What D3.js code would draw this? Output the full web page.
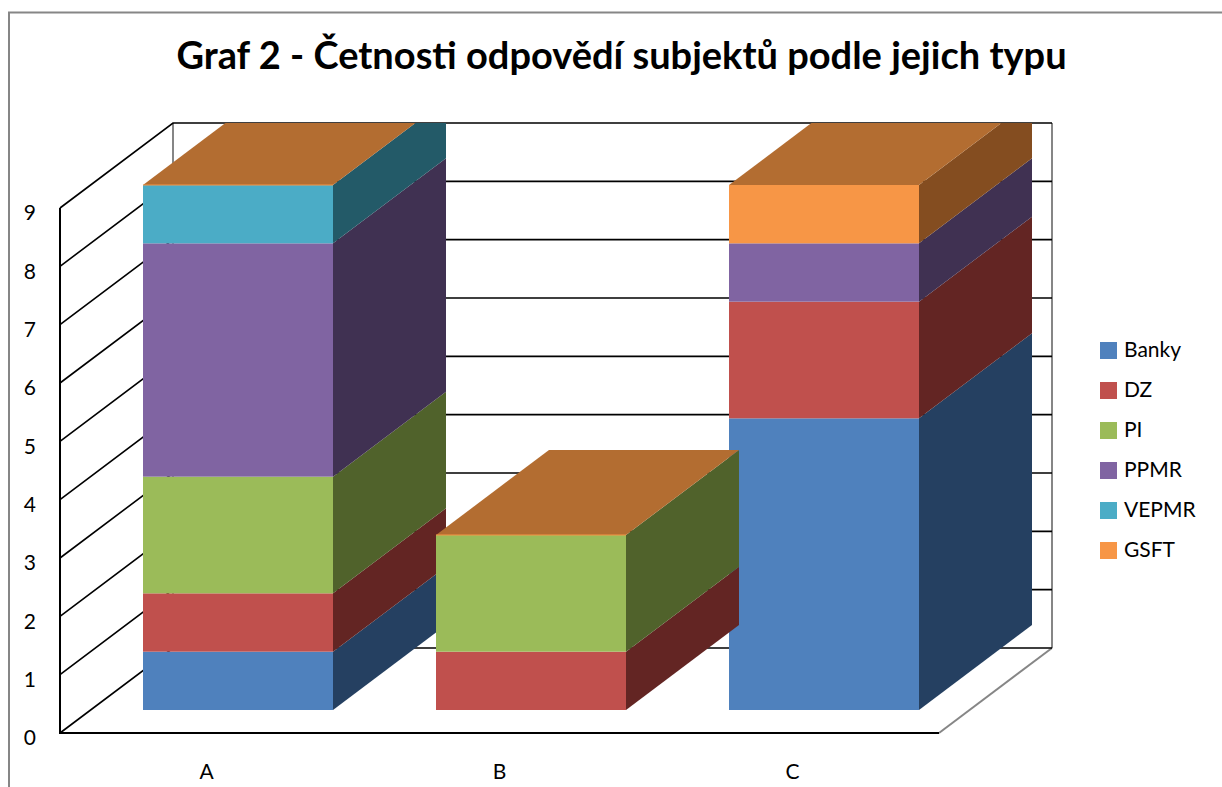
<!DOCTYPE html>
<html>
<head>
<meta charset="utf-8">
<script src="https://cdn.jsdelivr.net/npm/d3@7"></script>
<style>
  html, body { margin: 0; padding: 0; background: #fff; }
  svg { display: block; font-family: Lato, sans-serif; }
</style>
</head>
<body>
<div id="chart"></div>
<script>
const categories = ['A', 'B', 'C']
const seriesNames = ['Banky', 'DZ', 'PI', 'PPMR', 'VEPMR', 'GSFT']
const banky = [1, 0, 5]
const dz = [1, 1, 2]
const pi = [2, 2, 0]
const ppmr = [4, 0, 1]
const vepmr = [1, 0, 0]
const gsft = [0, 0, 1]
const yTicks = [0, 1, 2, 3, 4, 5, 6, 7, 8, 9]
const frontColors = ['#4f81bd', '#c0504d', '#9bbb59', '#8064a2', '#4bacc6', '#f79646']
const sideColors = ['#254061', '#632523', '#50622b', '#403152', '#235a68', '#844d20']
const topColor = '#b36d31'
const title = 'Graf 2 - Četnosti odpovědí subjektů podle jejich typu'

const width = 1222
const height = 787

// oblique projection of the 3D box
const depthX = 113
const depthY = 85
const wallLeft = 60
const wallRight = 939
const wallBottom = 733
const wallTop = 208
const barWidth = 190
const barOffset = 83
const barBaseline = 710

const rows = categories.map((c, i) => ({
  category: c,
  Banky: banky[i],
  DZ: dz[i],
  PI: pi[i],
  PPMR: ppmr[i],
  VEPMR: vepmr[i],
  GSFT: gsft[i],
}))
const stacked = d3.stack().keys(seriesNames)(rows)

const xScale = d3.scaleBand().domain(categories).range([wallLeft, wallRight])
const yScale = d3.scaleLinear().domain([0, 9]).range([wallBottom, wallTop])
const barScale = d3.scaleLinear().domain([0, 9]).range([barBaseline, barBaseline - (wallBottom - wallTop)])

const svg = d3.select('#chart').append('svg').attr('width', width).attr('height', height)

svg.append('defs').append('clipPath').attr('id', 'plot-clip')
  .append('rect')
  .attr('x', 0)
  .attr('y', wallTop - depthY)
  .attr('width', width)
  .attr('height', height)

// outer chart frame, cut by the picture edge on the right and bottom
svg.append('path')
  .attr('d', `M9,${height}V12.5H${width}`)
  .attr('fill', 'none')
  .attr('stroke', '#868686')
  .attr('stroke-width', 2)

svg.append('text')
  .attr('x', 621.5)
  .attr('y', 69)
  .attr('text-anchor', 'middle')
  .attr('font-size', 38)
  .attr('font-weight', 700)
  .attr('fill', '#000')
  .text(title)

// walls and floor
const grid = svg.append('g').attr('fill', 'none')
const gridLine = (d, color = '#000', w = 1.6) =>
  grid.append('path').attr('d', d).attr('stroke', color).attr('stroke-width', w)

gridLine(`M${wallLeft + depthX},${wallTop - depthY}V${wallBottom - depthY}`, '#868686', 2)
gridLine(`M${wallRight + depthX},${wallTop - depthY}V${wallBottom - depthY}`, '#868686', 2)
gridLine(`M${wallRight},${wallBottom}L${wallRight + depthX},${wallBottom - depthY}`, '#868686', 2)
yTicks.forEach(t => {
  const y = yScale(t)
  gridLine(`M${wallLeft},${y}L${wallLeft + depthX},${y - depthY}H${wallRight + depthX}`)
})
gridLine(`M${wallLeft},${wallTop}V${wallBottom}H${wallRight}`, '#000', 2)

// bar C is painted before B: the side of B lies over the front of C
const paintOrder = [0, 2, 1]
const bars = svg.append('g').attr('clip-path', 'url(#plot-clip)')

paintOrder.forEach(i => {
  const x0 = xScale(categories[i]) + barOffset
  const x1 = x0 + barWidth
  const g = bars.append('g').attr('class', `bar-${categories[i]}`)

  stacked.forEach((layer, s) => {
    const [v0, v1] = layer[i]
    if (v1 === v0) return
    const y0 = barScale(v0)
    const y1 = barScale(v1)
    g.append('polygon')
      .attr('points', [[x1, y0], [x1 + depthX, y0 - depthY], [x1 + depthX, y1 - depthY], [x1, y1]].join(' '))
      .attr('fill', sideColors[s])
    g.append('rect')
      .attr('x', x0)
      .attr('y', y1)
      .attr('width', barWidth)
      .attr('height', y0 - y1)
      .attr('fill', frontColors[s])
  })

  const total = d3.sum(stacked, layer => layer[i][1] - layer[i][0])
  const yTop = barScale(total)
  g.append('polygon')
    .attr('points', [[x0, yTop], [x1, yTop], [x1 + depthX, yTop - depthY], [x0 + depthX, yTop - depthY]].join(' '))
    .attr('fill', topColor)
  // empty GSFT segment still shows as a hairline along the front edge
  if (gsft[i] === 0) {
    g.append('line')
      .attr('x1', x0)
      .attr('x2', x1)
      .attr('y1', yTop)
      .attr('y2', yTop)
      .attr('stroke', frontColors[5])
      .attr('stroke-width', 1)
  }
})

// value labels
const yAxis = svg.append('g')
  .attr('transform', 'translate(36,5)')
  .call(d3.axisLeft(yScale).tickValues(yTicks).tickSize(0).tickPadding(0))
yAxis.select('.domain').remove()
yAxis.selectAll('text').attr('font-size', 21).attr('fill', '#000').style('font-family', 'Lato, sans-serif')

// category labels
const xAxis = svg.append('g')
  .attr('transform', `translate(0,${wallBottom + 31})`)
  .call(d3.axisBottom(xScale).tickSize(0).tickPadding(0))
xAxis.select('.domain').remove()
xAxis.selectAll('text').attr('font-size', 21).attr('fill', '#000').style('font-family', 'Lato, sans-serif')

// legend
const legend = svg.append('g').attr('transform', 'translate(1100,342)')
seriesNames.forEach((name, i) => {
  const row = legend.append('g').attr('transform', `translate(0,${i * 40})`)
  row.append('rect').attr('width', 17).attr('height', 17).attr('fill', frontColors[i])
  row.append('text')
    .attr('x', 24)
    .attr('y', 15)
    .attr('font-size', 21)
    .attr('fill', '#000')
    .text(name)
})
</script>
</body>
</html>
